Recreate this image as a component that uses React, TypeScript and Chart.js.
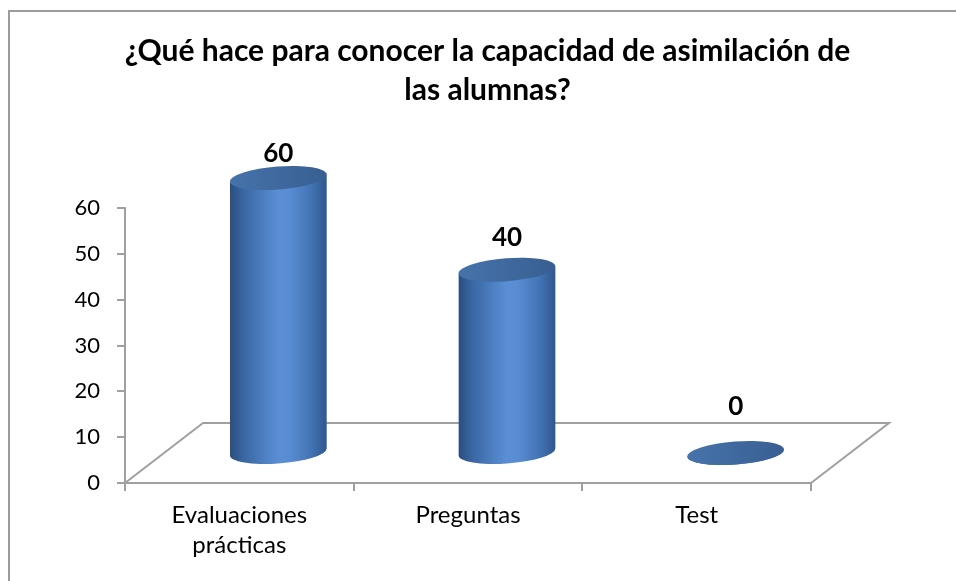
import React, { useEffect, useRef } from 'react';
import { Chart, registerables } from 'chart.js';

Chart.register(...registerables);

const categories: (string | string[])[] = [['Evaluaciones', 'prácticas'], 'Preguntas', 'Test'];
const values: number[] = [60, 40, 0];
const yTickValues: number[] = [0, 10, 20, 30, 40, 50, 60];
const titleLines: string[] = ['¿Qué hace para conocer la capacidad de asimilación de', 'las alumnas?'];

const FONT = 'Lato';
const DEPTH_X = 78;
const DEPTH_Y = -60;
const AXIS = '#a0a0a0';
const TILT = -0.075;
const ELL_B = 11.5;

const cylinderPlugin = {
  id: 'cyl3d',
  beforeDraw(chart: any) {
    const ctx = chart.ctx;
    ctx.save();
    ctx.fillStyle = '#ffffff';
    ctx.fillRect(0, 0, chart.width, chart.height);
    ctx.fillStyle = '#9c9c9c';
    ctx.fillRect(8, 10, chart.width - 8, 2);
    ctx.fillRect(8, 10, 2, chart.height - 10);
    ctx.restore();
  },
  beforeDatasetsDraw(chart: any) {
    const { ctx, chartArea } = chart;
    const { left, right, bottom } = chartArea;
    ctx.save();
    ctx.strokeStyle = AXIS;
    ctx.lineWidth = 2;
    ctx.beginPath();
    ctx.moveTo(left, bottom);
    ctx.lineTo(left + DEPTH_X, bottom + DEPTH_Y);
    ctx.lineTo(right + DEPTH_X, bottom + DEPTH_Y);
    ctx.lineTo(right, bottom);
    ctx.stroke();
    ctx.restore();
  },
  afterDatasetsDraw(chart: any) {
    const ctx = chart.ctx;
    const meta = chart.getDatasetMeta(0);
    const ds = chart.data.datasets[0];
    meta.data.forEach((bar: any, i: number) => {
      const a = bar.width / 2;
      const b = ELL_B;
      const cx = bar.x + DEPTH_X / 2;
      const cyB = bar.base + DEPTH_Y / 2;
      const cyT = bar.y + DEPTH_Y / 2;
      const t0 = Math.atan2(-b * Math.sin(TILT), a * Math.cos(TILT));
      const pt = (cy: number, t: number) => [
        cx + a * Math.cos(t) * Math.cos(TILT) - b * Math.sin(t) * Math.sin(TILT),
        cy + a * Math.cos(t) * Math.sin(TILT) + b * Math.sin(t) * Math.cos(TILT),
      ];
      const [xr] = pt(cyB, t0);
      const [xl] = pt(cyB, t0 + Math.PI);
      ctx.save();
      const g = ctx.createLinearGradient(xl, 0, xr, 0);
      g.addColorStop(0, '#2b4e7f');
      g.addColorStop(0.15, '#3b68a5');
      g.addColorStop(0.5, '#5a8fd6');
      g.addColorStop(0.62, '#588cd2');
      g.addColorStop(0.85, '#4172b3');
      g.addColorStop(1, '#2f578c');
      const tl = pt(cyT, t0 + Math.PI);
      const tr = pt(cyT, t0);
      const bl = pt(cyB, t0 + Math.PI);
      ctx.beginPath();
      ctx.moveTo(tl[0], tl[1]);
      ctx.lineTo(bl[0], bl[1]);
      ctx.ellipse(cx, cyB, a, b, TILT, t0 + Math.PI, t0, true);
      ctx.lineTo(tr[0], tr[1]);
      ctx.closePath();
      ctx.fillStyle = g;
      ctx.fill();
      const gt = ctx.createLinearGradient(xl, 0, xr, 0);
      gt.addColorStop(0, '#4673ab');
      gt.addColorStop(1, '#385f92');
      ctx.beginPath();
      ctx.ellipse(cx, cyT, a, b, TILT, 0, Math.PI * 2);
      ctx.fillStyle = gt;
      ctx.fill();
      const labelY = bar.base + DEPTH_Y - 8 - (bar.base - bar.y) * 0.92;
      ctx.fillStyle = '#000000';
      ctx.font = `bold 26px ${FONT}`;
      ctx.textAlign = 'center';
      ctx.textBaseline = 'alphabetic';
      ctx.fillText(String(ds.data[i]), cx, labelY);
      ctx.restore();
    });
  },
};

export default function App() {
  const ref = useRef<HTMLCanvasElement | null>(null);
  useEffect(() => {
    let chart: Chart | null = null;
    let cancelled = false;
    const make = () => {
      if (cancelled || !ref.current) return;
      Chart.defaults.font.family = FONT;
      chart = new Chart(ref.current, {
        type: 'bar',
        data: {
          labels: categories,
          datasets: [
            {
              data: values,
              backgroundColor: 'rgba(0,0,0,0)',
              borderWidth: 0,
              barPercentage: 0.424,
              categoryPercentage: 1,
            },
          ],
        },
        options: {
          responsive: false,
          animation: false,
          layout: { padding: { left: 19, top: 1, right: 0, bottom: 0 } },
          plugins: {
            legend: { display: false },
            tooltip: { enabled: false },
            title: {
              display: true,
              text: titleLines,
              color: '#000000',
              font: { family: FONT, size: 30, weight: 'bold', lineHeight: 1.3 },
              padding: { top: 31, bottom: 98 },
            },
          },
          scales: {
            x: {
              type: 'category',
              offset: true,
              grid: {
                display: true,
                drawOnChartArea: false,
                drawTicks: true,
                tickLength: 8,
                color: AXIS,
                lineWidth: 2,
                offset: true,
              },
              border: { display: true, color: AXIS, width: 2 },
              ticks: {
                color: '#000000',
                font: { family: FONT, size: 24, lineHeight: 1.25 },
                padding: 9,
                maxRotation: 0,
                autoSkip: false,
              },
              afterFit(s: any) {
                s.height = 98;
              },
            },
            y: {
              type: 'linear',
              min: 0,
              max: 60,
              afterBuildTicks(s: any) {
                s.ticks = yTickValues.map((v) => ({ value: v }));
              },
              ticks: { color: '#000000', font: { family: FONT, size: 22 }, padding: 17 },
              grid: { drawOnChartArea: false, tickLength: 8, color: AXIS, lineWidth: 2 },
              border: { color: AXIS, width: 2 },
              afterFit(s: any) {
                s.width = 106;
              },
            },
            yR: {
              type: 'linear',
              position: 'right',
              display: true,
              grid: { display: false },
              border: { display: false },
              ticks: { display: false },
              afterFit(s: any) {
                s.width = 145;
              },
            },
          },
        } as any,
        plugins: [cylinderPlugin],
      });
    };
    const fonts = (document as any).fonts;
    if (fonts && fonts.load) {
      Promise.all([fonts.load(`bold 30px ${FONT}`), fonts.load(`24px ${FONT}`)]).then(make, make);
    } else {
      make();
    }
    return () => {
      cancelled = true;
      if (chart) chart.destroy();
    };
  }, []);
  return (
    <div style={{ position: 'fixed', left: 0, top: 0, width: 956, height: 581, background: '#fff' }}>
      <canvas ref={ref} width={956} height={581} style={{ display: 'block' }} />
    </div>
  );
}
